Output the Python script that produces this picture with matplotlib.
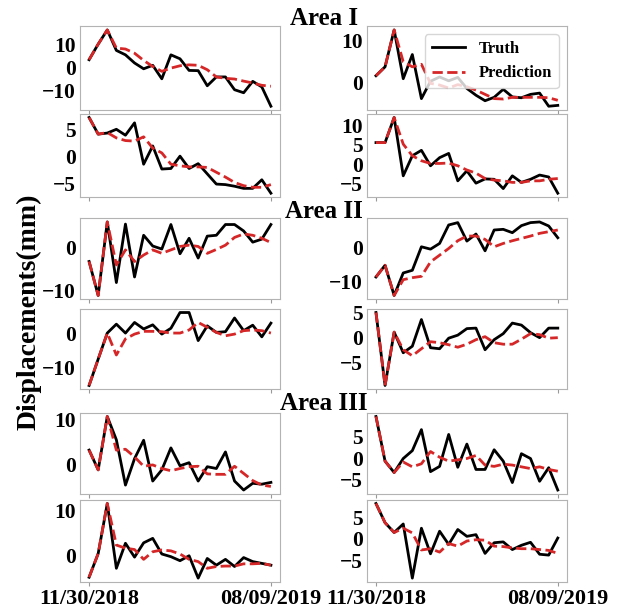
import numpy as np
import matplotlib.pyplot as plt

# displacement series (mm), 21 epochs from 11/30/2018 to 08/09/2019
a1_l1_truth = [3.3, 10.0, 16.1, 7.3, 5.4, 1.9, -0.6, 0.9, -4.9, 5.4, 3.7, -1.3, -1.4, -7.9, -4.1, -4.1, -9.6, -10.9, -6.0, -8.4, -16.7]
a1_l1_pred = [3.3, 10.0, 16.1, 8.3, 7.9, 6.1, 3.0, 0.4, -1.7, -0.3, 0.7, 1.1, 0.9, -1.0, -4.1, -4.7, -5.0, -5.9, -6.7, -7.7, -8.1]
a1_l2_truth = [7.3, 4.2, 4.4, 5.1, 4.0, 6.3, -1.4, 2.0, -2.3, -2.2, 0.1, -2.2, -1.3, -3.2, -5.1, -5.2, -5.5, -5.9, -5.9, -4.3, -6.8]
a1_l2_pred = [7.3, 4.2, 4.5, 3.5, 3.0, 2.9, 3.7, 1.6, 0.7, -1.4, -1.7, -1.9, -1.9, -2.0, -2.9, -3.8, -4.8, -5.4, -5.7, -5.7, -5.2]
a1_r1_truth = [1.6, 3.7, 12.4, 0.9, 6.6, -3.8, 0.3, 1.3, 0.4, 1.2, -1.4, -3.0, -4.3, -3.5, -1.6, -3.4, -3.6, -2.8, -2.5, -5.6, -5.4]
a1_r1_pred = [1.6, 3.7, 12.4, 4.9, 3.7, 4.3, -0.2, -0.6, -1.3, -0.5, -1.0, -1.8, -2.8, -3.8, -3.9, -3.5, -3.5, -3.5, -3.5, -3.6, -4.2]
a1_r2_truth = [5.6, 5.6, 12.1, -3.0, 2.2, 3.6, -0.4, 1.7, 2.8, -4.3, -1.7, -4.9, -3.8, -3.9, -6.3, -3.0, -4.7, -3.9, -2.8, -3.3, -7.5]
a1_r2_pred = [5.6, 5.6, 12.1, 5.2, 2.2, 0.9, 0.2, 0.2, 0.3, -0.4, -1.5, -2.3, -3.7, -4.1, -4.3, -4.7, -4.7, -4.3, -4.3, -3.9, -3.7]

a2_l1_truth = [-3.3, -11.2, 5.9, -8.2, 5.4, -6.9, 2.8, 0.3, -0.4, 5.3, -1.5, 2.1, -2.5, 2.6, 2.8, 5.3, 5.3, 3.8, 1.2, 1.9, 5.3]
a2_l1_pred = [-3.3, -11.2, 5.9, -4.1, -0.6, -3.3, -1.8, -0.6, -1.4, -0.6, 0.2, 0.5, 0.2, -1.4, -0.5, 0.5, 2.3, 3.1, 2.8, 2.1, 1.1]
a2_l2_truth = [-15.3, -7.6, 0.0, 2.6, 0.0, 3.1, 1.2, 2.4, -0.3, 1.4, 6.0, 6.0, -2.2, 2.1, 0.2, 0.4, 4.4, 0.7, 2.3, -1.1, 2.9]
a2_l2_pred = [-15.3, -7.6, 0.0, -6.4, -1.7, -0.3, 0.5, 0.5, 0.4, 0.0, 0.0, 0.9, 3.1, 1.7, 0.2, -0.8, -0.3, 0.7, 0.9, 0.7, 0.0]
a2_r1_truth = [-8.8, -5.3, -14.3, -7.6, -6.8, 0.2, -0.5, 1.2, 6.7, 7.4, 1.9, 4.0, -1.0, 5.2, 5.4, 4.4, 6.5, 7.4, 7.6, 6.4, 2.9]
a2_r1_pred = [-8.8, -5.3, -14.3, -9.6, -9.0, -8.6, -4.3, -2.3, -0.3, 2.0, 3.4, 3.4, 2.4, 0.2, 1.2, 2.0, 2.7, 3.4, 4.2, 4.7, 5.2]
a2_r2_truth = [5.0, -9.5, 1.1, -3.0, -1.7, 3.6, -2.0, -2.2, -0.1, 0.5, 1.8, 1.9, -2.4, -0.4, 0.8, 2.9, 2.5, 1.0, 0.0, 1.9, 1.9]
a2_r2_pred = [5.0, -9.5, 1.1, -2.4, -3.6, -2.2, -0.8, -1.0, -1.4, -1.9, -1.3, -0.4, 0.2, -1.0, -1.3, -1.3, -0.3, 0.8, 0.6, -0.1, 0.0]

a3_l1_truth = [3.2, -1.2, 10.7, 5.5, -4.6, 1.3, 5.4, -3.7, -1.2, 3.7, -0.3, 0.4, -3.7, -0.5, -0.9, 2.8, -3.7, -5.7, -4.2, -4.4, -4.0]
a3_l1_pred = [3.2, -1.2, 10.7, 3.2, 3.4, 1.7, -0.4, -0.1, -0.9, -1.4, -0.9, -0.5, -0.4, -2.1, -2.2, -2.2, -0.4, -2.0, -3.6, -4.6, -4.9]
a3_l2_truth = [-4.9, 0.4, 11.6, -2.9, 2.7, -0.4, 2.8, 3.8, 0.3, -0.3, -1.2, -0.1, -5.1, -0.7, -2.2, -0.9, -2.5, -0.5, -1.4, -1.8, -2.2]
a3_l2_pred = [-4.9, 0.4, 11.6, 2.3, 1.6, 1.3, -0.9, 0.8, 1.2, 1.0, 0.3, -0.9, -1.4, -2.9, -2.5, -2.4, -2.4, -1.9, -1.9, -1.8, -2.2]
a3_r1_truth = [9.5, -0.7, -3.3, -0.1, 1.7, 6.5, -3.1, -1.9, 5.4, -2.1, 3.2, -2.6, -2.6, 1.9, -0.7, -5.6, 1.0, -0.1, -5.3, -2.2, -7.3]
a3_r1_pred = [9.5, -0.7, -3.3, -0.9, -2.0, -1.3, 1.5, 0.2, -0.7, -0.4, -0.1, 0.6, -1.6, -1.9, -1.4, -1.6, -2.0, -2.4, -2.0, -2.6, -3.0]
a3_r2_truth = [8.3, 3.8, 1.5, 3.5, -9.2, 2.5, -3.5, 1.8, -1.3, 2.2, 0.6, 1.0, -3.4, -0.9, -0.7, -2.5, -1.5, -0.8, -3.6, -3.8, 0.2]
a3_r2_pred = [8.3, 3.8, 1.5, 2.5, 1.4, -2.6, -2.3, -3.1, -1.1, -1.7, -0.5, -0.2, -0.3, -1.7, -1.8, -2.1, -2.3, -2.3, -2.5, -2.7, -3.4]

x_labels = ['11/30/2018', '08/09/2019']
area_titles = ['Area I', 'Area II', 'Area III']

plt.rcParams['font.family'] = ['Liberation Serif', 'DejaVu Serif']
plt.rcParams['font.weight'] = 'bold'

fig = plt.figure(figsize=(6.25, 6.08), dpi=100)

# (bottom, height) per row in figure fraction; two columns share width
cols = [0.128, 0.587]
rows = [(0.819, 0.138), (0.676, 0.137), (0.508, 0.133),
        (0.360, 0.132), (0.188, 0.133), (0.043, 0.135)]

panels = [
    (0, 0, a1_l1_truth, a1_l1_pred, [-10, 0, 10]),
    (0, 1, a1_r1_truth, a1_r1_pred, [0, 10]),
    (1, 0, a1_l2_truth, a1_l2_pred, [-5, 0, 5]),
    (1, 1, a1_r2_truth, a1_r2_pred, [-5, 0, 5, 10]),
    (2, 0, a2_l1_truth, a2_l1_pred, [-10, 0]),
    (2, 1, a2_r1_truth, a2_r1_pred, [-10, 0]),
    (3, 0, a2_l2_truth, a2_l2_pred, [-10, 0]),
    (3, 1, a2_r2_truth, a2_r2_pred, [-5, 0, 5]),
    (4, 0, a3_l1_truth, a3_l1_pred, [0, 10]),
    (4, 1, a3_r1_truth, a3_r1_pred, [-5, 0, 5]),
    (5, 0, a3_l2_truth, a3_l2_pred, [0, 10]),
    (5, 1, a3_r2_truth, a3_r2_pred, [-5, 0, 5]),
]

for r, c, truth, pred, yt in panels:
    ax = fig.add_axes([cols[c], rows[r][0], 0.32, rows[r][1]])
    x = np.arange(len(truth))
    ax.plot(x, truth, color='black', lw=2, label='Truth')
    ax.plot(x, pred, color='#d62728', lw=2, ls='--', label='Prediction')
    for s in ax.spines.values():
        s.set_color('0.7')
    ax.set_yticks(yt)
    ax.set_xticks([0, len(truth) - 1])
    ax.tick_params(axis='y', length=0, labelsize=15.5, pad=3)
    ax.tick_params(axis='x', length=3, color='0.6', labelsize=16, pad=2)
    if r == 5:
        ax.set_xticklabels(x_labels)
    else:
        ax.set_xticklabels([])
    if r == 0 and c == 1:
        ax.legend(loc='upper right', prop={'weight': 'bold', 'size': 12},
                  edgecolor='0.8', framealpha=0.8)

for t, yb in zip(area_titles, [0.959, 0.641, 0.326]):
    fig.text(0.518, yb, t, ha='center', va='baseline', fontsize=18, fontweight='bold')

fig.text(0.046, 0.487, 'Displacements(mm)', rotation=90, ha='center', va='center',
         fontsize=20, fontweight='bold')

fig.savefig('out.png', dpi=100)
